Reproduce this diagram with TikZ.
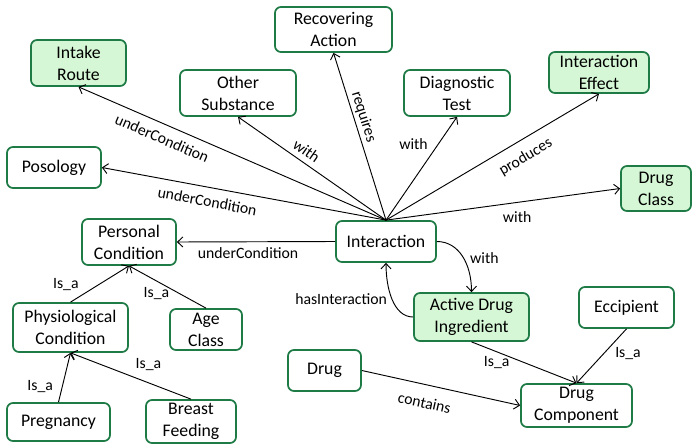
\documentclass[tikz,border=0pt]{standalone}
\usepackage{fontspec}
\setmainfont{Carlito}
\usetikzlibrary{arrows.meta}
\definecolor{boxgreen}{HTML}{1E7B46}
\definecolor{boxfill}{HTML}{D5F7D5}
\begin{document}
\begin{tikzpicture}[x=0.75pt,y=-0.75pt,
  cbox/.style={draw=boxgreen,line width=1.3pt,rounded corners=4.5pt,fill=white,inner sep=0pt,align=center,font=\fontsize{13.3}{16.5}\selectfont},
  gbox/.style={cbox,fill=boxfill},
  rel/.style={-{Straight Barb[length=4pt,width=7.5pt]},line width=0.7pt},
  lbl/.style={font=\fontsize{11.8}{14}\selectfont,inner sep=1pt}]
\useasboundingbox (0,0) rectangle (692,446);

% nodes
\node[gbox,minimum width=71.25pt,minimum height=34.5pt] (IR) at (78.5,63) {Intake\\Route};
\node[cbox,minimum width=87pt,minimum height=34.5pt] (OS) at (238,93) {Other\\Substance};
\node[cbox,minimum width=87.75pt,minimum height=33.75pt] (RA) at (333.5,29.5) {Recovering\\Action};
\node[cbox,minimum width=79.5pt,minimum height=34.5pt] (DT) at (457,93) {Diagnostic\\Test};
\node[gbox,minimum width=75pt,minimum height=30.75pt] (IE) at (599,72.5) {Interaction\\Effect};
\node[gbox,minimum width=52.5pt,minimum height=33.75pt] (DCl) at (656,188.5) {Drug\\Class};
\node[cbox,minimum width=70.5pt,minimum height=30.75pt] (Pos) at (54,167.5) {Posology};
\node[cbox,minimum width=70.5pt,minimum height=34.5pt] (PC) at (129,242) {Personal\\Condition};
\node[cbox,minimum width=75pt,minimum height=30.75pt] (Int) at (386,241.5) {Interaction};
\node[cbox,minimum width=86.25pt,minimum height=36.75pt] (Phys) at (70.5,327.5) {Physiological\\Condition};
\node[cbox,minimum width=54pt,minimum height=30.75pt] (Age) at (206,329.5) {Age\\Class};
\node[cbox,minimum width=77.25pt,minimum height=28.5pt] (Preg) at (58.5,422) {Pregnancy};
\node[cbox,minimum width=67.5pt,minimum height=32.25pt] (BF) at (191,421.5) {Breast\\Feeding};
\node[cbox,minimum width=54.75pt,minimum height=30.75pt] (Drug) at (324.5,370.5) {Drug};
\node[gbox,minimum width=86.25pt,minimum height=36pt] (ADI) at (471.5,317) {Active Drug\\Ingredient};
\node[cbox,minimum width=71.25pt,minimum height=30.75pt] (Ecc) at (626.5,307.5) {Eccipient};
\node[cbox,minimum width=83.25pt,minimum height=32.25pt] (DComp) at (576.5,405.5) {Drug\\Component};

% connectors
\draw[rel] (Int.north) -- node[lbl,pos=0.71,sloped,below=5pt]{underCondition} (IR.south);
\draw[rel] (Int.north) -- node[lbl,pos=0.62,sloped,below=5pt]{underCondition} (Pos.east);
\draw[rel] (Int.north) -- node[lbl,pos=0.58,sloped,above=3pt]{with} (OS.south);
\draw[rel] (Int.north) -- node[lbl,pos=0.6,sloped,above=0.8pt]{requires} (RA.south);
\draw[rel] (Int.north) -- node[lbl,pos=0.74,xshift=-18.75pt]{with} (DT.south);
\draw[rel] (Int.north) -- node[lbl,pos=0.615,sloped,below=6.5pt]{produces} (IE.south);
\draw[rel] (Int.north) -- node[lbl,pos=0.56,yshift=-10.9pt]{with} (DCl.west);
\draw[rel] (Int.west) -- node[lbl,pos=0.55,yshift=-8.6pt]{underCondition} (PC.east);
\draw[rel] (Int.east) .. controls +(22,0) and +(0,-28) .. node[lbl,pos=0.5,xshift=16.5pt,yshift=-1.5pt]{with} (ADI.north);
\draw[rel] (ADI.west) .. controls +(-20,0) and +(0,25) .. node[lbl,pos=0.5,anchor=east,xshift=-2.5pt]{hasInteraction} (Int.south);
\draw[rel] (ADI.south) -- node[lbl,pos=0.24,yshift=-8pt]{Is\_a} (DComp.north);
\draw[rel] (Ecc.south) -- node[lbl,pos=0.45,xshift=18pt]{Is\_a} (DComp.north);
\draw[rel] (Drug.east) -- node[lbl,pos=0.42,sloped,below=8pt]{contains} (DComp.west);
\draw[rel] (Phys.north) -- node[lbl,pos=0.49,xshift=-25pt]{Is\_a} (PC.south);
\draw[rel] (Age.north) -- node[lbl,pos=0.35,xshift=-17pt]{Is\_a} (PC.south);
\draw[rel] (Preg.north) -- node[lbl,pos=0.31,xshift=-16.5pt]{Is\_a} (Phys.south);
\draw[rel] (BF.north) -- node[lbl,pos=0.353,yshift=14pt]{Is\_a} (Phys.south);
\end{tikzpicture}
\end{document}
